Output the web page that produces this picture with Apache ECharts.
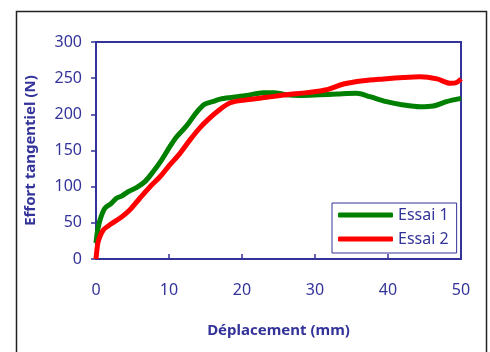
<!DOCTYPE html>
<html>
<head>
<meta charset="utf-8">
<script src="https://cdn.jsdelivr.net/npm/echarts@6/dist/echarts.min.js"></script>
<style>
html,body{margin:0;padding:0;background:#fff;}
#chart{width:490px;height:352px;}
</style>
</head>
<body>
<div id="chart"></div>
<script>
// Essai 1 (green)
var essai1X = [0, 0.2, 0.55, 1.2, 2.1, 2.8, 3.5, 4.4, 5.6, 6.7, 7.85, 9.0, 10.1, 11.05, 12.4, 13.8, 14.9, 16.1, 17.0, 18.8, 20.6, 22.9, 24.3, 26.1, 27.9, 30.7, 33.0, 35.7, 37.5, 39.8, 42.1, 44.4, 46.2, 48.0, 50];
var essai1Y = [22, 38, 54, 70, 77, 84, 87, 93, 99, 107, 121, 137, 155, 169, 184, 203, 214, 218, 221, 223.5, 226, 230, 230, 227, 226, 227, 228, 229, 224.5, 217.5, 213, 210.5, 211.5, 217.5, 222];
// Essai 2 (red)
var essai2X = [0, 0.1, 0.3, 1.0, 2.15, 3.5, 4.65, 6.0, 7.4, 8.8, 10.1, 11.5, 12.9, 14.2, 15.6, 16.75, 18.4, 20.6, 23.4, 26.1, 28.9, 31.6, 33.9, 36.6, 39.4, 42.1, 44.4, 46.7, 48.5, 49.4, 50];
var essai2Y = [0, 10, 24, 40, 49, 58, 68, 84, 100, 114, 130, 146, 165, 181, 195, 205, 216, 220, 223.5, 227, 230, 234, 242, 246.5, 249, 251, 252, 249, 243, 244, 249];
var seriesNames = ['Essai 1', 'Essai 2'];
var xTitle = 'Déplacement (mm)';
var yTitle = 'Effort tangentiel (N)';

function pairs(xs, ys) { return xs.map(function (x, i) { return [x, ys[i]]; }); }

var navy = '#333399';
var font = '"Noto Sans", "DejaVu Sans", sans-serif';
var chart = echarts.init(document.getElementById('chart'), null, {renderer: 'canvas'});
chart.setOption({
  backgroundColor: '#ffffff',
  animation: false,
  graphic: [{
    type: 'rect', left: 14, top: 9, z: -10, silent: true,
    shape: {width: 470, height: 360},
    style: {fill: 'none', stroke: '#222222', lineWidth: 1.5}
  }],
  grid: {left: 96, top: 42, right: 29, bottom: 93, show: true, borderColor: navy, borderWidth: 2, backgroundColor: 'transparent'},
  legend: {
    orient: 'vertical', left: 332, top: 203,
    data: seriesNames,
    backgroundColor: '#fff', borderColor: navy, borderWidth: 1, borderRadius: 0,
    padding: [4, 8, 6, 6], itemGap: 8, itemWidth: 55, itemHeight: 5,
    icon: 'roundRect',
    textStyle: {color: navy, fontSize: 16, fontFamily: font}
  },
  xAxis: {
    type: 'value', min: 0, max: 50, interval: 10,
    name: xTitle, nameLocation: 'middle', nameGap: 64,
    nameTextStyle: {color: navy, fontSize: 15, fontWeight: 'bold', fontFamily: font},
    axisLine: {show: true, lineStyle: {color: navy, width: 2}},
    axisTick: {show: true, inside: true, length: 5, lineStyle: {color: navy, width: 1.5}},
    axisLabel: {color: navy, fontSize: 16, fontFamily: font, margin: 23},
    splitLine: {show: false}
  },
  yAxis: {
    type: 'value', min: 0, max: 300, interval: 50,
    name: yTitle, nameLocation: 'middle', nameGap: 58,
    nameTextStyle: {color: navy, fontSize: 15, fontWeight: 'bold', fontFamily: font},
    axisLine: {show: true, lineStyle: {color: navy, width: 2}},
    axisTick: {show: true, inside: false, length: 5, lineStyle: {color: navy, width: 1.5}},
    axisLabel: {color: navy, fontSize: 16, fontFamily: font, margin: 14},
    splitLine: {show: false}
  },
  series: [
    {name: seriesNames[0], type: 'line', data: pairs(essai1X, essai1Y), showSymbol: false, smooth: 0.3,
     lineStyle: {color: '#008000', width: 5}, itemStyle: {color: '#008000'}},
    {name: seriesNames[1], type: 'line', data: pairs(essai2X, essai2Y), showSymbol: false, smooth: 0.3,
     lineStyle: {color: '#ff0000', width: 5}, itemStyle: {color: '#ff0000'}}
  ]
});
</script>
</body>
</html>
